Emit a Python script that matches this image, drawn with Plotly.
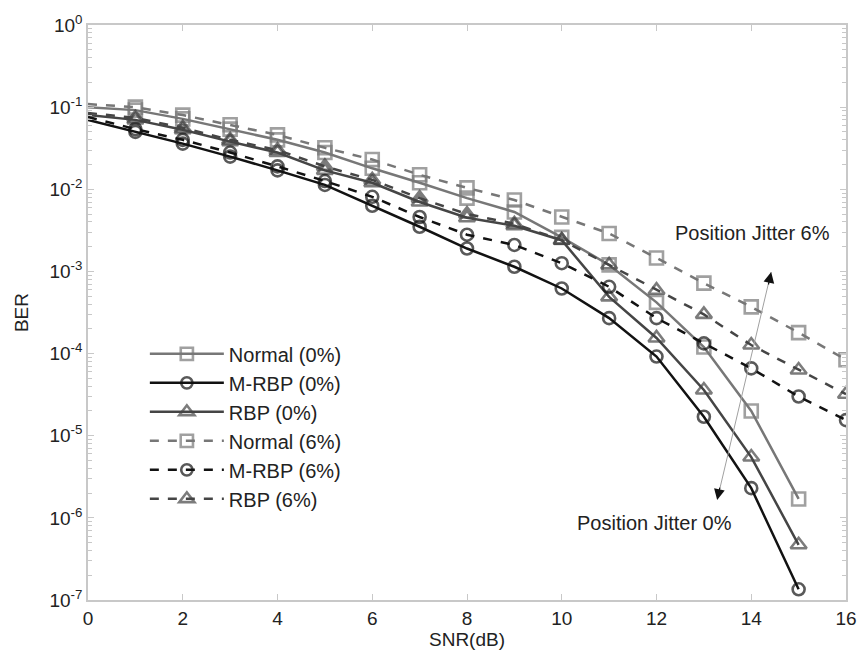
import numpy as np
import plotly.graph_objects as go

snr_solid = list(range(0, 16))
snr_dash = list(range(0, 17))

normal_0 = [0.100, 0.092, 0.072, 0.054, 0.040, 0.028, 0.018, 0.012, 0.0078, 0.0053,
            0.0026, 0.0012, 0.00042, 0.00012, 2.0e-5, 1.7e-6]
mrbp_0 = [0.070, 0.050, 0.036, 0.025, 0.017, 0.0113, 0.0063, 0.0035, 0.0019, 0.00114,
          0.00062, 0.00027, 9.2e-5, 1.7e-5, 2.3e-6, 1.35e-7]
rbp_0 = [0.080, 0.070, 0.053, 0.038, 0.028, 0.017, 0.012, 0.0070, 0.0045, 0.0036,
         0.0024, 0.00049, 0.000155, 3.6e-5, 5.5e-6, 4.7e-7]
normal_6 = [0.109, 0.100, 0.080, 0.061, 0.046, 0.032, 0.023, 0.015, 0.0104, 0.0074,
            0.0046, 0.0029, 0.00146, 0.00072, 0.00037, 0.00018, 8.4e-5]
mrbp_6 = [0.076, 0.054, 0.040, 0.028, 0.019, 0.0126, 0.0081, 0.0046, 0.0028, 0.0021,
          0.00126, 0.00065, 0.00027, 0.000133, 6.6e-5, 3.0e-5, 1.55e-5]
rbp_6 = [0.085, 0.074, 0.056, 0.040, 0.030, 0.019, 0.013, 0.0078, 0.0050, 0.0038,
         0.0024, 0.0012, 0.00059, 0.00030, 0.000127, 6.3e-5, 3.2e-5]

x_ticks = list(range(0, 17, 2))
y_exps = list(range(-7, 1))

GRAY = "#777777"
DARK = "#454545"
BLACK = "#121212"
FONT = "Liberation Sans, Arial, sans-serif"

series = [
    ("Normal (0%)", snr_solid, normal_0, GRAY, "solid", "square-open", 13),
    ("M-RBP (0%)", snr_solid, mrbp_0, BLACK, "solid", "circle-open", 12),
    ("RBP (0%)", snr_solid, rbp_0, DARK, "solid", "triangle-up-open", 14),
    ("Normal (6%)", snr_dash, normal_6, GRAY, "dash", "square-open", 13),
    ("M-RBP (6%)", snr_dash, mrbp_6, BLACK, "dash", "circle-open", 12),
    ("RBP (6%)", snr_dash, rbp_6, DARK, "dash", "triangle-up-open", 14),
]

fig = go.Figure()
for i, (name, xs, ys, col, dash, sym, ms) in enumerate(series):
    sizes = [0] + [ms] * (len(xs) - 1)  # no marker drawn at SNR = 0 dB
    fig.add_trace(go.Scatter(
        x=xs, y=ys, name=name, mode="lines+markers", legendgroup=f"g{i}",
        line=dict(color=col, width=2.5, dash=dash),
        marker=dict(symbol=sym, size=sizes, color=col, line=dict(width=2.6, color=col)),
    ))

minor_vals = [m * 10.0 ** e for e in range(-7, 0) for m in range(2, 10)]

axis_common = dict(
    showline=True, linecolor="#c8c8c8", linewidth=1.5, mirror="ticks",
    ticks="inside", ticklen=6, tickcolor="#c8c8c8", tickwidth=1,
    showgrid=False, zeroline=False, automargin=False,
    tickfont=dict(family=FONT, size=19, color="#222"),
    title_font=dict(family=FONT, size=19, color="#222"),
)

fig.update_xaxes(range=[0, 16], tickvals=x_ticks, title_text="SNR(dB)",
                 title_standoff=4, **axis_common)
fig.update_yaxes(type="log", range=[-7, 0], tickvals=[10.0 ** e for e in y_exps],
                 ticktext=[f"10<sup>{e}</sup>" for e in y_exps], title_text="BER",
                 title_standoff=16,
                 minor=dict(tickvals=minor_vals, ticks="inside", ticklen=4,
                            tickcolor="#c8c8c8", showgrid=False),
                 **axis_common)

ann_font = dict(family=FONT, size=20, color="#222")
anns = [
    dict(x=14.02, y=-2.532, text="Position Jitter 6%", showarrow=False, font=ann_font),
    dict(x=11.95, y=-6.063, text="Position Jitter 0%", showarrow=False, font=ann_font),
    dict(x=14.42, y=-3.007, ax=13.28, ay=-5.783, axref="x", ayref="y", text="",
         showarrow=True, arrowhead=0, arrowwidth=1, arrowcolor="#a0a0a0"),
    dict(x=14.42, y=-3.007, ax=-3, ay=14, text="", showarrow=True, arrowhead=2,
         arrowsize=1.8, arrowwidth=1.2, arrowcolor="#111"),
    dict(x=13.28, y=-5.783, ax=3, ay=-14, text="", showarrow=True, arrowhead=2,
         arrowsize=1.8, arrowwidth=1.2, arrowcolor="#111"),
]
for a in anns:
    a.update(xref="x", yref="y")
    fig.add_annotation(**a)

fig.update_layout(
    width=863, height=659,
    margin=dict(l=88, r=17, t=25, b=59),
    plot_bgcolor="white", paper_bgcolor="white",
    font=dict(family=FONT, size=18, color="#222"),
    legend=dict(x=0.075, y=0.462, xanchor="left", yanchor="top",
                bgcolor="rgba(0,0,0,0)", tracegroupgap=0,
                font=dict(family=FONT, size=20, color="#222"),
                itemwidth=74),
    showlegend=True,
)

fig.write_html("out.html")
